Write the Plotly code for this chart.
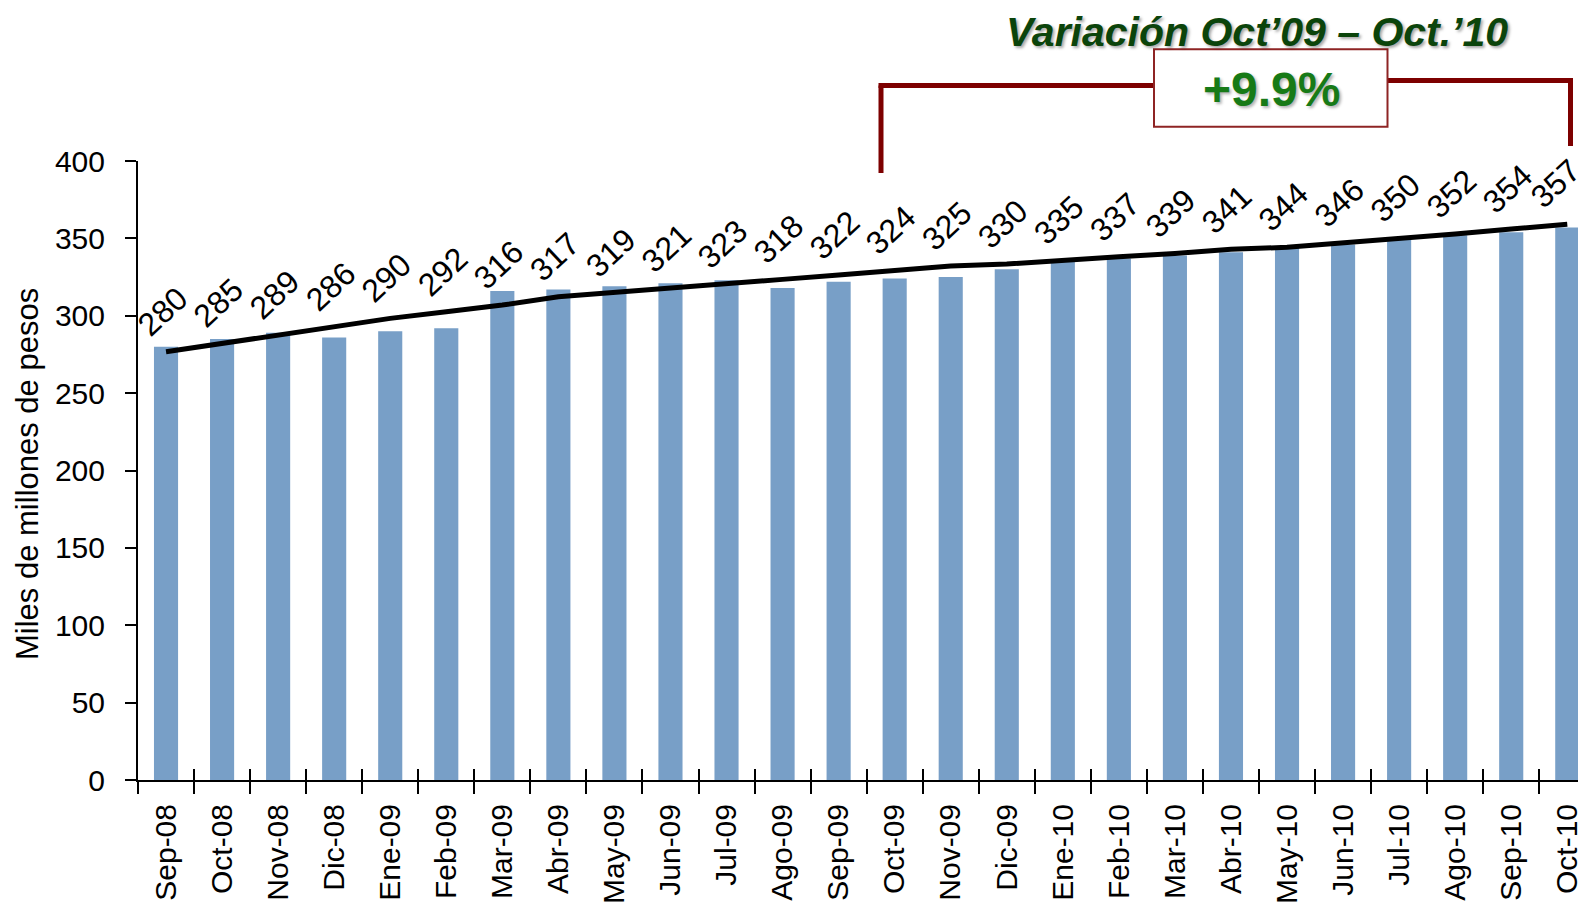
import plotly.graph_objects as go

# ---------------- data ----------------
months = ["Sep-08", "Oct-08", "Nov-08", "Dic-08", "Ene-09", "Feb-09", "Mar-09",
          "Abr-09", "May-09", "Jun-09", "Jul-09", "Ago-09", "Sep-09", "Oct-09",
          "Nov-09", "Dic-09", "Ene-10", "Feb-10", "Mar-10", "Abr-10", "May-10",
          "Jun-10", "Jul-10", "Ago-10", "Sep-10", "Oct-10"]
values = [280, 285, 289, 286, 290, 292, 316, 317, 319, 321, 323, 318, 322, 324,
          325, 330, 335, 337, 339, 341, 344, 346, 350, 352, 354, 357]
trend = [276.7, 282.2, 287.5, 292.9, 298.3, 302.6, 306.9, 312.3, 314.9, 317.7,
         320.3, 323.5, 326.3, 329.5, 332.1, 333.4, 336.0, 338.1, 340.3, 343.0,
         344.2, 346.8, 350.0, 352.8, 356.0, 359.2]
y_ticks = [0, 50, 100, 150, 200, 250, 300, 350, 400]
title_text = "Variación Oct’09 – Oct.’10"
change_text = "+9.9%"
y_title = "Miles de millones de pesos"

# ---------------- layout geometry (page pixels, page body has 8px margin) ----
OFF = 8
W, H = 1586 - OFF, 907 - OFF
PLOT_L, PLOT_R, PLOT_T, PLOT_B = 138, 1586, 161, 780   # page coords
L = PLOT_L - OFF
T = PLOT_T - OFF
R = W - (PLOT_R - OFF)
B = H - (PLOT_B - OFF)
PW, PH = W - L - R, H - T - B
BAND = 56.05


def px(xp):
    return (xp - PLOT_L) / PW


def py(yp):
    return (PLOT_B - yp) / PH


FONT = "Liberation Sans, Arial, sans-serif"

fig = go.Figure()

fig.add_trace(go.Bar(
    x=months, y=values,
    marker=dict(color="#789fc7", line=dict(width=0)),
    showlegend=False, hoverinfo="x+y",
))

fig.add_trace(go.Scatter(
    x=months, y=trend, xaxis="x2", mode="lines",
    line=dict(color="black", width=5),
    showlegend=False, hoverinfo="skip",
))

annotations = []
LABEL_HALF = 29  # approx half horizontal extent of a rotated label
for i, (m, v, t) in enumerate(zip(months, values, trend)):
    centre_px = PLOT_L + (i + 0.5) * BAND - 4
    xs = -4 - max(0, centre_px + LABEL_HALF - (PLOT_R - 2))
    annotations.append(dict(
        x=m, y=t, xref="x", yref="y", text=str(v), showarrow=False,
        textangle=-43, xanchor="center", yanchor="middle",
        yshift=40, xshift=xs,
        font=dict(family=FONT, size=32, color="black"),
    ))

annotations.append(dict(
    x=px(27), y=py(474), xref="paper", yref="paper", text=y_title,
    showarrow=False, textangle=-90, xanchor="center", yanchor="middle",
    font=dict(family=FONT, size=31, color="black"),
))

annotations.append(dict(
    x=px(1257), y=py(32), xref="paper", yref="paper",
    text="<b><i>" + title_text + "</i></b>", showarrow=False,
    xanchor="center", yanchor="middle",
    font=dict(family=FONT, size=41, color="#0b440b",
              shadow="2px 2px 3px rgba(0,0,0,0.35)"),
))

shapes = []
red = "#7d0000"
shapes.append(dict(type="line", xref="paper", yref="paper",
                   x0=px(881), x1=px(881), y0=py(173), y1=py(85.5),
                   line=dict(color=red, width=5)))
shapes.append(dict(type="line", xref="paper", yref="paper",
                   x0=px(878.5), x1=px(1156), y0=py(85.5), y1=py(85.5),
                   line=dict(color=red, width=5)))
shapes.append(dict(type="line", xref="paper", yref="paper",
                   x0=px(1386), x1=px(1573), y0=py(80.5), y1=py(80.5),
                   line=dict(color=red, width=5)))
shapes.append(dict(type="line", xref="paper", yref="paper",
                   x0=px(1570.5), x1=px(1570.5), y0=py(78), y1=py(146),
                   line=dict(color=red, width=5)))
shapes.append(dict(type="rect", xref="paper", yref="paper",
                   x0=px(1154), x1=px(1387.5), y0=py(126.7), y1=py(49.3),
                   fillcolor="white", line=dict(color="#8e2424", width=2)))

annotations.append(dict(
    x=px(1271), y=py(90), xref="paper", yref="paper",
    text="<b>" + change_text + "</b>", showarrow=False,
    xanchor="center", yanchor="middle",
    font=dict(family=FONT, size=48, color="#177a17",
              shadow="2px 2px 3px rgba(0,0,0,0.3)"),
))

xr = [-0.5, -0.5 + PW / BAND]

fig.update_layout(
    width=W, height=H,
    margin=dict(l=L, r=R, t=T, b=B, pad=0),
    paper_bgcolor="white", plot_bgcolor="white",
    bargap=0.57,
    showlegend=False,
    annotations=annotations,
    shapes=shapes,
    xaxis=dict(
        type="category", categoryorder="array", categoryarray=months,
        range=xr, tickson="boundaries", ticks="outside", ticklen=12,
        tickwidth=2, tickcolor="black", showline=True, linecolor="black",
        linewidth=2, showgrid=False, zeroline=False, tickangle=-90,
        tickfont=dict(family=FONT, size=30, color="black"),
        ticklabelstandoff=10, automargin=False,
    ),
    xaxis2=dict(
        type="category", categoryorder="array", categoryarray=months,
        range=xr, overlaying="x", anchor="y", side="bottom",
        tickson="boundaries", ticks="inside", ticklen=11, tickwidth=2,
        tickcolor="black", showticklabels=False, showline=False,
        showgrid=False, zeroline=False, automargin=False,
    ),
    yaxis=dict(
        range=[0, 400], tickmode="array", tickvals=y_ticks,
        ticks="outside", ticklen=11, tickwidth=2, tickcolor="black",
        showline=True, linecolor="black", linewidth=2, showgrid=False,
        zeroline=False, tickfont=dict(family=FONT, size=30, color="black"),
        ticklabelstandoff=14, automargin=False,
    ),
)

fig.write_html("out.html")
